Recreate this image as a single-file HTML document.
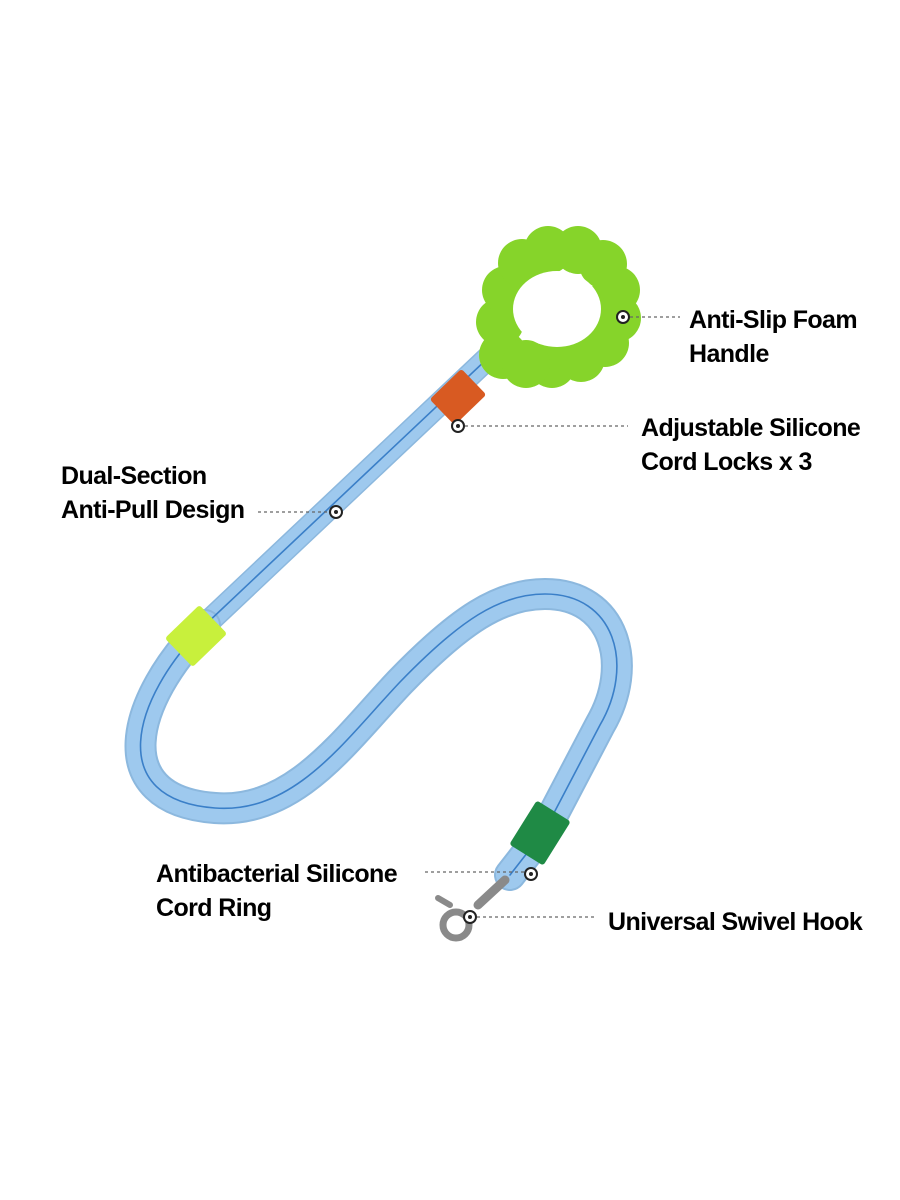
<!DOCTYPE html>
<html><head><meta charset="utf-8"><style>
html,body{margin:0;padding:0;background:#fff;}
svg{display:block}
text{font-family:"Liberation Sans",sans-serif;font-weight:bold;font-size:25px;fill:#000;letter-spacing:-0.6px}
</style></head><body>
<svg width="900" height="1200" viewBox="0 0 900 1200" xmlns="http://www.w3.org/2000/svg">
<!-- leash cord -->
<g fill="none" stroke-linecap="round" stroke-linejoin="round">
<path d="M488 358 L205 625" stroke="#8cb8de" stroke-width="24"/>
<path d="M488 358 L205 625" stroke="#9ec9ee" stroke-width="21"/>
<path d="M205 625 C130 700,105 800,215 808 C295 814,345 740,400 682 C460 620,500 594,545 594 C615 594,635 665,600 725 L545 830 L510 875" stroke="#8cb8de" stroke-width="32"/>
<path d="M205 625 C130 700,105 800,215 808 C295 814,345 740,400 682 C460 620,500 594,545 594 C615 594,635 665,600 725 L545 830 L510 875" stroke="#9ec9ee" stroke-width="28"/>
<path d="M488 358 L205 625 C130 700,105 800,215 808 C295 814,345 740,400 682 C460 620,500 594,545 594 C615 594,635 665,600 725 L545 830 L510 875" stroke="#3a7fc8" stroke-width="1.6"/>
</g>
<!-- handle -->
<g fill="#86d42a">
<circle cx="503" cy="355" r="24"/><circle cx="500" cy="322" r="24"/><circle cx="506" cy="290" r="24"/>
<circle cx="522" cy="263" r="24"/><circle cx="548" cy="250" r="24"/><circle cx="578" cy="250" r="24"/>
<circle cx="603" cy="264" r="24"/><circle cx="616" cy="290" r="24"/><circle cx="617" cy="318" r="24"/>
<circle cx="605" cy="343" r="24"/><circle cx="581" cy="358" r="24"/><circle cx="552" cy="364" r="24"/>
<circle cx="526" cy="364" r="24"/>
</g>
<ellipse cx="557" cy="309" rx="44" ry="38" fill="#fff"/>
<!-- locks -->
<rect x="-22" y="-18" width="44" height="36" rx="3" fill="#d85a22" transform="translate(458 397) rotate(-44)"/>
<rect x="-24" y="-20" width="48" height="40" rx="3" fill="#c8f03c" transform="translate(196 636) rotate(-44)"/>
<rect x="-26" y="-20" width="52" height="40" rx="3" fill="#1f8a45" transform="translate(540 833) rotate(-58)"/>
<!-- hook -->
<g fill="none" stroke="#8a8a8a" stroke-linecap="round">
<path d="M505 880 L478 905" stroke-width="9"/>
<circle cx="456" cy="925" r="13" stroke-width="7"/>
<path d="M450 905 L438 898" stroke-width="6"/>
</g>
<!-- connectors -->
<g stroke="#666" stroke-width="1.3" stroke-dasharray="3 3">
<line x1="630" y1="317" x2="680" y2="317"/>
<line x1="465" y1="426" x2="628" y2="426"/>
<line x1="258" y1="512" x2="330" y2="512"/>
<line x1="425" y1="872" x2="525" y2="872"/>
<line x1="477" y1="917" x2="597" y2="917"/>
</g>
<g fill="#fff" stroke="#222" stroke-width="2">
<circle cx="623" cy="317" r="6"/><circle cx="458" cy="426" r="6"/><circle cx="336" cy="512" r="6"/>
<circle cx="531" cy="874" r="6"/><circle cx="470" cy="917" r="6"/>
</g>
<g fill="#222"><circle cx="623" cy="317" r="2"/><circle cx="458" cy="426" r="2"/><circle cx="336" cy="512" r="2"/><circle cx="531" cy="874" r="2"/><circle cx="470" cy="917" r="2"/></g>
<!-- labels -->
<text x="689" y="328">Anti-Slip Foam</text>
<text x="689" y="362">Handle</text>
<text x="641" y="436">Adjustable Silicone</text>
<text x="641" y="470">Cord Locks x 3</text>
<text x="61" y="484">Dual-Section</text>
<text x="61" y="518">Anti-Pull Design</text>
<text x="156" y="882">Antibacterial Silicone</text>
<text x="156" y="916">Cord Ring</text>
<text x="608" y="930">Universal Swivel Hook</text>
</svg>
</body></html>
